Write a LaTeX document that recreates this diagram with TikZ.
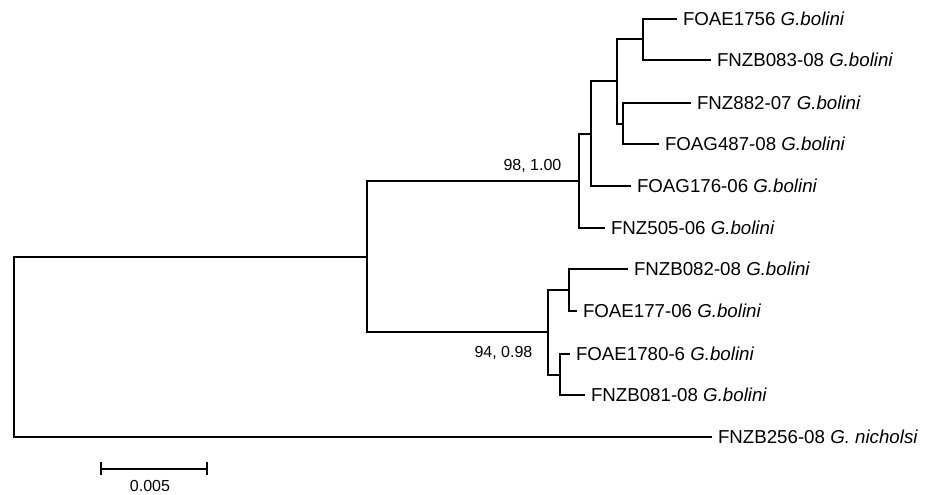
\documentclass[tikz,border=0pt]{standalone}
\usepackage{fontspec}
\setmainfont{Liberation Sans}
\begin{document}
\begin{tikzpicture}[x=1pt,y=-1pt,line width=1.3pt,
  leaf/.style={anchor=west,inner xsep=6pt,inner ysep=0pt,outer sep=0pt,
    font=\fontsize{18.7}{22}\selectfont,text height=13.4pt,text depth=0pt},
  support/.style={anchor=east,inner sep=0pt,
    font=\fontsize{16}{19}\selectfont,text height=11.5pt,text depth=0pt},
  branch/.style={draw=black,line width=1.3pt}]
\useasboundingbox (0,0) rectangle (930,495);
% internal nodes
\coordinate (root) at (14,347);
\coordinate (ing) at (367,257);
\coordinate (cA) at (579,181);
\coordinate (a1) at (591,134);
\coordinate (a2) at (617,81);
\coordinate (a3) at (643,39);
\coordinate (a4) at (623,124);
\coordinate (cB) at (548,332);
\coordinate (b1) at (569,290);
\coordinate (b2) at (560,375);
% leaves
\node[leaf] (l1) at (677,19) {FOAE1756 \textit{G.bolini}};
\node[leaf] (l2) at (711,60) {FNZB083-08 \textit{G.bolini}};
\node[leaf] (l3) at (691,103) {FNZ882-07 \textit{G.bolini}};
\node[leaf] (l4) at (659,144) {FOAG487-08 \textit{G.bolini}};
\node[leaf] (l5) at (631,186) {FOAG176-06 \textit{G.bolini}};
\node[leaf] (l6) at (605,228) {FNZ505-06 \textit{G.bolini}};
\node[leaf] (l7) at (628,269) {FNZB082-08 \textit{G.bolini}};
\node[leaf] (l8) at (577,311) {FOAE177-06 \textit{G.bolini}};
\node[leaf] (l9) at (570,354) {FOAE1780-6 \textit{G.bolini}};
\node[leaf] (l10) at (585,395) {FNZB081-08 \textit{G.bolini}};
\node[leaf] (l11) at (712,437) {FNZB256-08 \textit{G. nicholsi}};
% branches
\draw[branch] (root) |- (ing);
\draw[branch] (root) |- (l11.west);
\draw[branch] (ing) |- (cA);
\draw[branch] (ing) |- (cB);
\draw[branch] (cA) |- (a1);
\draw[branch] (cA) |- (l6.west);
\draw[branch] (a1) |- (a2);
\draw[branch] (a1) |- (l5.west);
\draw[branch] (a2) |- (a3);
\draw[branch] (a2) |- (a4);
\draw[branch] (a3) |- (l1.west);
\draw[branch] (a3) |- (l2.west);
\draw[branch] (a4) |- (l3.west);
\draw[branch] (a4) |- (l4.west);
\draw[branch] (cB) |- (b1);
\draw[branch] (cB) |- (b2);
\draw[branch] (b1) |- (l7.west);
\draw[branch] (b1) |- (l8.west);
\draw[branch] (b2) |- (l9.west);
\draw[branch] (b2) |- (l10.west);
% support values
\node[support] (sA) at (562,165) {98, 1.00};
\node[support] (sB) at (533,352) {94, 0.98};
% scale bar
\coordinate (s1) at (101,469);
\coordinate (s2) at (207,469);
\draw[branch] (s1) -- (s2);
\draw[branch] ([yshift=7pt]s1) -- ([yshift=-6pt]s1);
\draw[branch] ([yshift=7pt]s2) -- ([yshift=-6pt]s2);
\node[support,anchor=center] (sl) at (150,486) {0.005};
\end{tikzpicture}
\end{document}
